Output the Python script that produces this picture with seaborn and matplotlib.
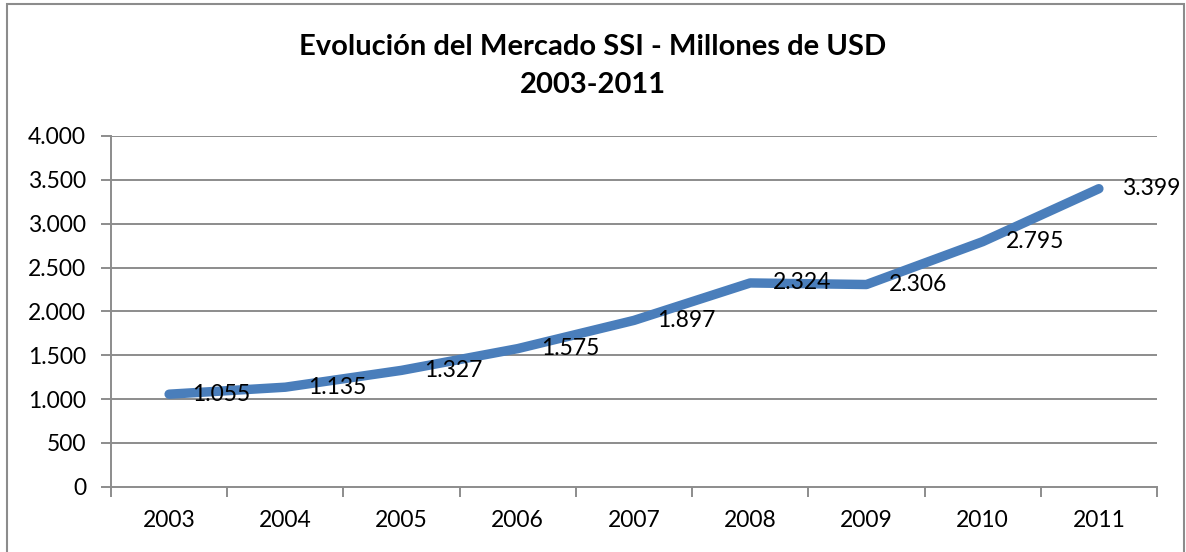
import matplotlib
matplotlib.use("Agg")
import matplotlib.pyplot as plt
import seaborn as sns
import pandas as pd
from matplotlib.patches import Rectangle
from matplotlib.ticker import FuncFormatter, FixedLocator

years = ["2003", "2004", "2005", "2006", "2007", "2008", "2009", "2010", "2011"]
values = [1055, 1135, 1327, 1575, 1897, 2324, 2306, 2795, 3399]
y_ticks = [0, 500, 1000, 1500, 2000, 2500, 3000, 3500, 4000]
title = "Evolución del Mercado SSI - Millones de USD\n2003-2011"

sns.set_theme(style="white")
plt.rcParams['font.family'] = ['Lato', 'DejaVu Sans']
plt.rcParams['text.color'] = 'black'
plt.rcParams['xtick.color'] = 'black'
plt.rcParams['ytick.color'] = 'black'

def fmt(v):
    return f"{int(v):,}".replace(",", ".")

df = pd.DataFrame({"x": range(len(years)), "v": values})

fig = plt.figure(figsize=(11.86, 5.52), dpi=100)
ax = fig.add_axes([111/1186, 1-486.7/552, (1157-111)/1186, 350.7/552])

grid_c = "#8c8c8c"
for t in y_ticks[1:]:
    ax.axhline(t, color=grid_c, lw=1.4, zorder=1)

sns.lineplot(data=df, x="x", y="v", ax=ax, color="#4A7EBB", lw=6.8,
             solid_capstyle="round", solid_joinstyle="round", zorder=3)

for i, v in enumerate(values):
    ax.annotate(fmt(v), (i, v), xytext=(16.5, 0), textcoords="offset points",
                ha="left", va="center", fontsize=16.5, color="black", zorder=4)

ax.set_xlim(-0.5, len(years) - 0.5)
ax.set_ylim(0, 4000)
ax.set_yticks(y_ticks)
ax.yaxis.set_major_formatter(FuncFormatter(lambda v, p: fmt(v)))
ax.xaxis.set_major_locator(FixedLocator([i - 0.5 for i in range(len(years) + 1)]))
ax.xaxis.set_minor_locator(FixedLocator(list(range(len(years)))))
ax.set_xticklabels([], minor=False)
ax.set_xticklabels(years, minor=True)
ax.tick_params(axis="x", which="major", length=7, width=1.4, color=grid_c, direction="out", bottom=True)
ax.tick_params(axis="x", which="minor", length=0, labelsize=16.5, pad=17, bottom=True, labelcolor="black")
ax.tick_params(axis="y", length=7, width=1.4, color=grid_c, direction="out", labelsize=16.5, pad=11, left=True, labelcolor="black")
ax.set_xlabel("")
ax.set_ylabel("")
for s in ["top", "right"]:
    ax.spines[s].set_visible(False)
for s in ["left", "bottom"]:
    ax.spines[s].set_color(grid_c)
    ax.spines[s].set_linewidth(1.4)

fig.text(0.5, 1 - 66/552, title, ha="center", va="center", fontsize=21,
         fontweight="bold", linespacing=1.6, color="black")

fig.patches.append(Rectangle((7/1186, -0.01), (1184-7)/1186, (552-4)/552 + 0.01,
                             transform=fig.transFigure, fill=False,
                             edgecolor="#8c8c8c", lw=1.5))

fig.savefig("out.png", dpi=100)
